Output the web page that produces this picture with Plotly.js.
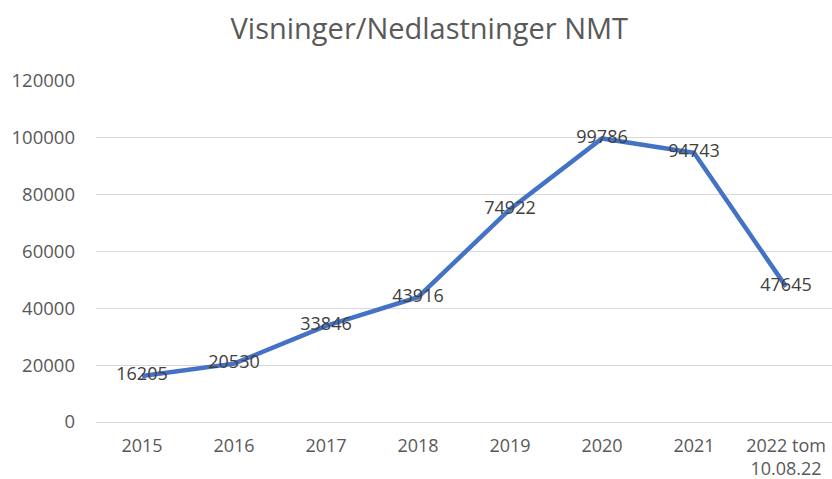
<!DOCTYPE html>
<html>
<head>
<meta charset="utf-8">
<script src="https://cdn.plot.ly/plotly-3.0.1.min.js"></script>
<style>html,body{margin:0;padding:0;background:#fff;}#chart{width:832px;height:479px;}</style>
</head>
<body>
<div id="chart"></div>
<script>
const categories = ["2015", "2016", "2017", "2018", "2019", "2020", "2021", "2022 tom<br>10.08.22"];
const views = [16205, 20530, 33846, 43916, 74922, 99786, 94743, 47645];
const yTicks = [0, 20000, 40000, 60000, 80000, 100000, 120000];

const FONT = 'Open Sans, Liberation Sans, sans-serif';

const trace = {
  type: 'scatter',
  mode: 'lines+text',
  x: categories,
  y: views,
  text: views.map(String),
  textposition: 'middle center',
  textfont: {family: FONT, size: 18, color: '#404040'},
  line: {color: '#4472C4', width: 4.5},
  cliponaxis: false,
  hoverinfo: 'x+y'
};

const layout = {
  width: 832, height: 479,
  margin: {l: 96, r: 0, t: 81, b: 57},
  paper_bgcolor: '#fff', plot_bgcolor: '#fff',
  showlegend: false,
  title: {
    text: 'Visninger/Nedlastninger NMT',
    font: {family: FONT, size: 29, color: '#595959'},
    x: 0.516, xanchor: 'center', y: 0.94, yanchor: 'middle'
  },
  xaxis: {
    type: 'category',
    range: [-0.5, 7.5],
    showgrid: false, zeroline: false, showline: false,
    ticks: '', ticklabelstandoff: 11,
    tickfont: {family: FONT, size: 18, color: '#595959'}
  },
  yaxis: {
    range: [0, 120000],
    tickvals: yTicks,
    ticktext: yTicks.map(String),
    showgrid: true, gridcolor: '#d9d9d9', gridwidth: 1,
    zeroline: true, zerolinecolor: '#d9d9d9', zerolinewidth: 1,
    showline: false, ticks: '', ticklabelstandoff: 20,
    tickfont: {family: FONT, size: 18.5, color: '#595959'}
  }
};

Plotly.newPlot('chart', [trace], layout, {displayModeBar: false, staticPlot: true});
</script>
</body>
</html>
